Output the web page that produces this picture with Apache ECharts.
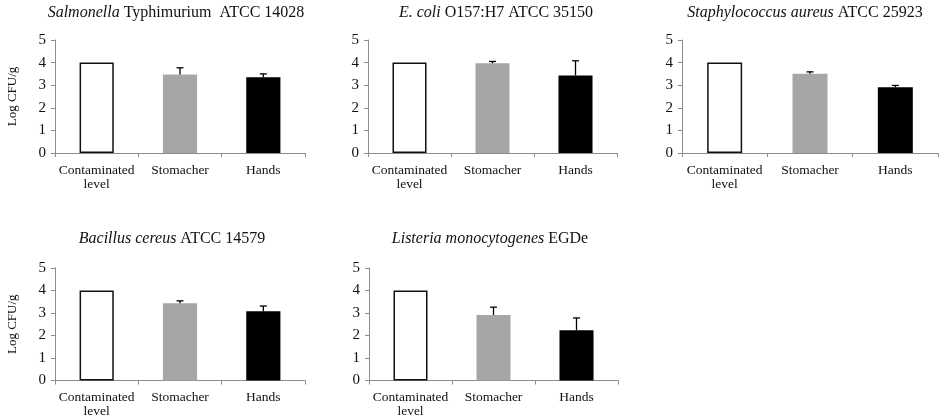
<!DOCTYPE html>
<html>
<head>
<meta charset="utf-8">
<script src="https://cdn.jsdelivr.net/npm/echarts@6/dist/echarts.min.js"></script>
<style>html,body{margin:0;padding:0;background:#fff}#c{width:945px;height:420px}</style>
</head>
<body>
<div id="c"></div>
<script>
const categories = ['Contaminated\nlevel', 'Stomacher', 'Hands'];
const titleItalic = ['Salmonella', 'E. coli', 'Staphylococcus aureus', 'Bacillus cereus', 'Listeria monocytogenes'];
const titlePlain = [' Typhimurium  ATCC 14028', ' O157:H7 ATCC 35150', ' ATCC 25923', ' ATCC 14579', ' EGDe'];
const salmonella = [4.0, 3.47, 3.35];
const salmonellaErr = [0, 0.30, 0.15];
const ecoli = [4.0, 3.97, 3.43];
const ecoliErr = [0, 0.08, 0.65];
const staph = [4.0, 3.51, 2.91];
const staphErr = [0, 0.08, 0.08];
const bacillus = [4.0, 3.43, 3.08];
const bacillusErr = [0, 0.11, 0.23];
const listeria = [4.0, 2.91, 2.23];
const listeriaErr = [0, 0.35, 0.55];
const yMin = 0, yMax = 5, yStep = 1;

const means = [salmonella, ecoli, staph, bacillus, listeria];
const errs = [salmonellaErr, ecoliErr, staphErr, bacillusErr, listeriaErr];

const FONT = 'Liberation Serif, Times New Roman, serif';
const grids = [
  {left: 55, top: 40, width: 250, height: 113},
  {left: 368, top: 40, width: 249, height: 113},
  {left: 682, top: 40, width: 256, height: 113},
  {left: 55, top: 268, width: 250, height: 112.5},
  {left: 369, top: 268, width: 249, height: 112.5}
];
const titlePos = [[176, 5], [496, 5], [805, 5], [172, 231], [490, 231]];
const barColors = ['#ffffff', '#a6a6a6', '#000000'];
const axisColor = '#8c8c8c';

const option = {
  backgroundColor: '#fff',
  animation: false,
  title: titlePos.map((p, i) => ({
    left: p[0], top: p[1], textAlign: 'center', padding: 0,
    text: '{i|' + titleItalic[i] + '}{n|' + titlePlain[i] + '}',
    textStyle: {
      fontWeight: 'normal',
      rich: {
        i: {fontFamily: FONT, fontStyle: 'italic', fontWeight: 'normal', fontSize: 16, color: '#111'},
        n: {fontFamily: FONT, fontWeight: 'normal', fontSize: 16, color: '#111'}
      }
    }
  })),
  grid: grids.map(g => Object.assign({outerBoundsMode: 'none', containLabel: false}, g)),
  xAxis: grids.map((g, i) => ({
    type: 'category', gridIndex: i, data: categories,
    axisLine: {lineStyle: {color: axisColor, width: 1}},
    axisTick: {show: true, alignWithLabel: false, length: 4, lineStyle: {color: axisColor}},
    axisLabel: {fontFamily: FONT, fontSize: 13.5, color: '#111', margin: 10, lineHeight: 14, interval: 0}
  })),
  yAxis: grids.map((g, i) => ({
    type: 'value', gridIndex: i, min: yMin, max: yMax, interval: yStep,
    name: (i === 0 || i === 3) ? 'Log CFU/g' : '',
    nameLocation: 'middle', nameGap: 36, nameRotate: 90,
    nameTextStyle: {fontFamily: FONT, fontSize: 13, color: '#111'},
    splitLine: {show: false},
    axisLine: {show: true, lineStyle: {color: axisColor, width: 1}},
    axisTick: {show: true, length: 4, lineStyle: {color: axisColor}},
    axisLabel: {fontFamily: FONT, fontSize: 15, color: '#111', margin: 9}
  })),
  series: []
};

means.forEach((m, i) => {
  option.series.push({
    type: 'bar', xAxisIndex: i, yAxisIndex: i, barWidth: '41%',
    data: m.map((v, k) => ({
      value: v,
      itemStyle: {color: barColors[k], borderColor: k === 0 ? '#111' : barColors[k], borderWidth: k === 0 ? 1.5 : 0}
    }))
  });
  option.series.push({
    type: 'custom', xAxisIndex: i, yAxisIndex: i, z: 5,
    data: m.map((v, k) => [k, v, errs[i][k]]),
    renderItem: function (params, api) {
      const e = api.value(2);
      if (!e) return null;
      const base = api.coord([api.value(0), api.value(1)]);
      const top = api.coord([api.value(0), api.value(1) + e]);
      const hw = 3.5;
      return {
        type: 'group',
        children: [
          {type: 'line', shape: {x1: base[0], y1: base[1], x2: top[0], y2: top[1]}, style: {stroke: '#000', lineWidth: 1.3}},
          {type: 'line', shape: {x1: top[0] - hw, y1: top[1], x2: top[0] + hw, y2: top[1]}, style: {stroke: '#000', lineWidth: 1.3}}
        ]
      };
    }
  });
});

const chart = echarts.init(document.getElementById('c'), null, {renderer: 'canvas'});
chart.setOption(option);
</script>
</body>
</html>
